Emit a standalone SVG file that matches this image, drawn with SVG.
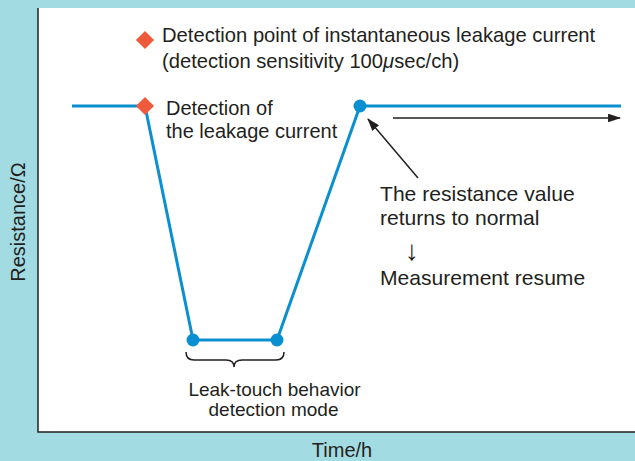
<svg xmlns="http://www.w3.org/2000/svg" width="635" height="461" viewBox="0 0 635 461">
<defs>
<style>
.t{font-family:"Liberation Sans",Arial,sans-serif;font-size:20px;fill:#231f20}
.top{font-size:20.2px}
.r{font-size:21.1px}
.s{font-size:19px}
.curve{fill:none;stroke:#0a8fd0;stroke-width:3;stroke-linejoin:round}
.dot{fill:#0a8fd0}
.dia{fill:#ef5a3c}
.ax{stroke:#231f20;stroke-width:1.5;fill:none}
.arr{stroke:#231f20;stroke-width:1.5;fill:none}
</style>
<marker id="ah" viewBox="0 0 12 8" refX="11" refY="4" markerWidth="13" markerHeight="9" markerUnits="userSpaceOnUse" orient="auto">
<path d="M0,0 L12,4 L0,8 Z" fill="#231f20"/>
</marker>
</defs>
<rect x="0" y="0" width="635" height="461" fill="#a3dbe3"/>
<rect x="38" y="8" width="597" height="424" fill="#ffffff"/>
<g id="axes">
<path class="ax" d="M38,8 L38,432 L635,432"/>
<text class="t" transform="translate(25,222) rotate(-90)" text-anchor="middle">Resistance/Ω</text>
<text class="t" x="342" y="457" text-anchor="middle">Time/h</text>
</g>
<g id="curve">
<polyline class="curve" points="72,106 145,106 193,340 277,340 360,106 621,106"/>
</g>
<g id="legend">
<rect class="dia" x="138.6" y="33.6" width="12.8" height="12.8" transform="rotate(45 145 40)"/>
<text class="t top" x="162" y="42">Detection point of instantaneous leakage current</text>
<text class="t top" x="162" y="68">(detection sensitivity 100<tspan font-style="italic">μ</tspan>sec/ch)</text>
</g>
<g id="detection">
<rect class="dia" x="138.6" y="99.6" width="12.8" height="12.8" transform="rotate(45 145 106)"/>
<text class="t" x="166" y="115">Detection of</text>
<text class="t" x="166" y="138">the leakage current</text>
</g>
<g id="leak-touch">
<circle class="dot" cx="193" cy="340" r="6.5"/>
<circle class="dot" cx="277" cy="340" r="6.5"/>
<path class="arr" d="M186,352 Q186,360 194,360 L226,360 Q234,360 234,367 Q234,360 242,360 L276,360 Q284,360 284,352"/>
<text class="t s" x="274.5" y="396" text-anchor="middle">Leak-touch behavior</text>
<text class="t s" x="273.5" y="416" text-anchor="middle">detection mode</text>
</g>
<g id="return">
<circle class="dot" cx="360" cy="106" r="6.5"/>
<text class="t r" x="380" y="201">The resistance value</text>
<text class="t r" x="380" y="225">returns to normal</text>
<text class="t" x="412" y="260" text-anchor="middle" style="font-size:28px">↓</text>
<text class="t r" x="380" y="285">Measurement resume</text>
</g>
<g id="connectors">
<line class="arr" x1="418" y1="178" x2="368" y2="119" marker-end="url(#ah)"/>
<line class="arr" x1="393" y1="118" x2="620" y2="118" marker-end="url(#ah)"/>
</g>
</svg>
